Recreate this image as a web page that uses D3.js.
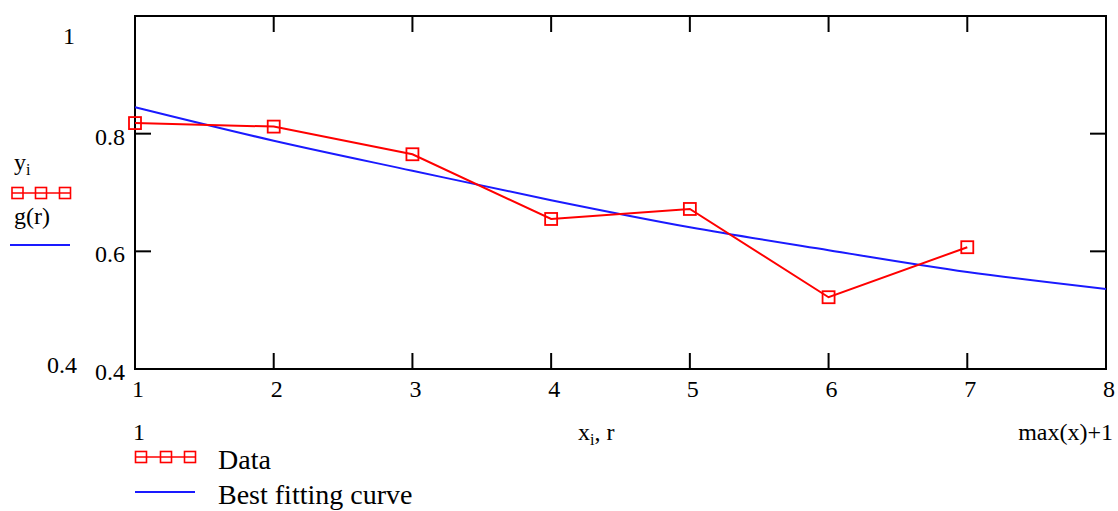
<!DOCTYPE html>
<head>
    <meta charset="utf-8" />
    <script src="https://d3js.org/d3.v7.min.js"></script>
    <style>
        body { margin: 0; background: #fff; }
        text { font-family: "Liberation Serif", "Times New Roman", serif; fill: #000; }
    </style>
</head>
<body>
    <script>
        // donnees
        var dataX = [1, 2, 3, 4, 5, 6, 7];
        var dataY = [0.818, 0.812, 0.765, 0.655, 0.672, 0.522, 0.607];
        // courbe g(r) lue point par point
        var fitR = [1, 2, 3, 4, 5, 6, 7, 8];
        var fitG = [0.845, 0.788, 0.737, 0.687, 0.641, 0.602, 0.565, 0.536];
        var xTicks = [1, 2, 3, 4, 5, 6, 7, 8];
        var yTicks = [0.4, 0.6, 0.8];

        var width = 1118, height = 511;
        var svg = d3.select("body").append("svg")
            .attr("width", width).attr("height", height);

        var x = d3.scaleLinear().domain([1, 8]).range([135, 1106]);
        var y = d3.scaleLinear().domain([0.4, 1]).range([369, 16]);

        // ticks interieurs
        var tickLen = 16;
        var ax = svg.append("g").attr("stroke", "#000").attr("stroke-width", 2);
        xTicks.slice(1, -1).forEach(function (t) {
            ax.append("line").attr("x1", x(t)).attr("x2", x(t)).attr("y1", y(0.4)).attr("y2", y(0.4) - tickLen);
            ax.append("line").attr("x1", x(t)).attr("x2", x(t)).attr("y1", y(1)).attr("y2", y(1) + tickLen);
        });
        yTicks.forEach(function (t) {
            ax.append("line").attr("y1", y(t)).attr("y2", y(t)).attr("x1", x(1)).attr("x2", x(1) + tickLen);
            ax.append("line").attr("y1", y(t)).attr("y2", y(t)).attr("x1", x(8)).attr("x2", x(8) - tickLen);
        });
        svg.append("rect")
            .attr("x", x(1)).attr("y", y(1))
            .attr("width", x(8) - x(1)).attr("height", y(0.4) - y(1))
            .attr("fill", "none").attr("stroke", "#000").attr("stroke-width", 2);

        // etiquettes des ticks
        svg.selectAll(".xt").data(xTicks).join("text")
            .attr("x", function (d) { return x(d) + 3; })
            .attr("y", 397)
            .attr("text-anchor", "middle")
            .attr("font-size", 24)
            .text(function (d) { return d; });
        svg.selectAll(".yt").data(yTicks).join("text")
            .attr("x", 125)
            .attr("y", function (d) { return y(d) + 11; })
            .attr("text-anchor", "end")
            .attr("font-size", 24)
            .text(function (d) { return d; });

        // limites et titres (style Mathcad)
        svg.append("text").attr("x", 75).attr("y", 44).attr("text-anchor", "end").attr("font-size", 24).text("1");
        svg.append("text").attr("x", 77).attr("y", 373).attr("text-anchor", "end").attr("font-size", 24).text("0.4");
        svg.append("text").attr("x", 133).attr("y", 440).attr("font-size", 24).text("1");
        svg.append("text").attr("x", 1113).attr("y", 440).attr("text-anchor", "end").attr("font-size", 24).text("max(x)+1");
        var xl = svg.append("text").attr("x", 578).attr("y", 440).attr("font-size", 24);
        xl.append("tspan").text("x");
        xl.append("tspan").attr("font-size", 16).attr("dy", 5).text("i");
        xl.append("tspan").attr("dy", -5).text(", r");

        var yl = svg.append("text").attr("x", 14).attr("y", 170).attr("font-size", 24);
        yl.append("tspan").text("y");
        yl.append("tspan").attr("font-size", 16).attr("dy", 5).text("i");
        svg.append("text").attr("x", 14).attr("y", 224).attr("font-size", 24).text("g(r)");

        // courbe ajustee
        var line = d3.line().curve(d3.curveMonotoneX);
        svg.append("path")
            .attr("d", line(fitR.map(function (r, i) { return [x(r), y(fitG[i])]; })))
            .attr("fill", "none").attr("stroke", "#1a1aff").attr("stroke-width", 2);

        // donnees
        var pts = dataX.map(function (v, i) { return [x(v), y(dataY[i])]; });
        svg.append("path")
            .attr("d", d3.line()(pts))
            .attr("fill", "none").attr("stroke", "#ff0000").attr("stroke-width", 2);
        var s = 12;
        svg.selectAll(".pt").data(pts).join("rect")
            .attr("x", function (d) { return d[0] - s / 2; })
            .attr("y", function (d) { return d[1] - s / 2; })
            .attr("width", s).attr("height", s)
            .attr("fill", "none").attr("stroke", "#ff0000").attr("stroke-width", 1.8);

        // legendes
        function redLegend(x0, x1, yy, centers, sz) {
            svg.append("line").attr("x1", x0).attr("x2", x1).attr("y1", yy).attr("y2", yy)
                .attr("stroke", "#ff0000").attr("stroke-width", 1.5);
            centers.forEach(function (c) {
                svg.append("rect").attr("x", c - sz / 2).attr("y", yy - sz / 2)
                    .attr("width", sz).attr("height", sz)
                    .attr("fill", "none").attr("stroke", "#ff0000").attr("stroke-width", 1.6);
            });
        }
        function blueLegend(x0, x1, yy) {
            svg.append("line").attr("x1", x0).attr("x2", x1).attr("y1", yy).attr("y2", yy)
                .attr("stroke", "#1a1aff").attr("stroke-width", 1.8);
        }
        redLegend(12, 70, 193, [17.5, 41, 65], 11);
        blueLegend(10, 70, 245);
        redLegend(135, 196, 457, [141, 166, 190], 11);
        blueLegend(135, 195, 492);
        svg.append("text").attr("x", 218).attr("y", 469).attr("font-size", 28).text("Data");
        svg.append("text").attr("x", 218).attr("y", 504).attr("font-size", 28).text("Best fitting curve");
    </script>
</body>
